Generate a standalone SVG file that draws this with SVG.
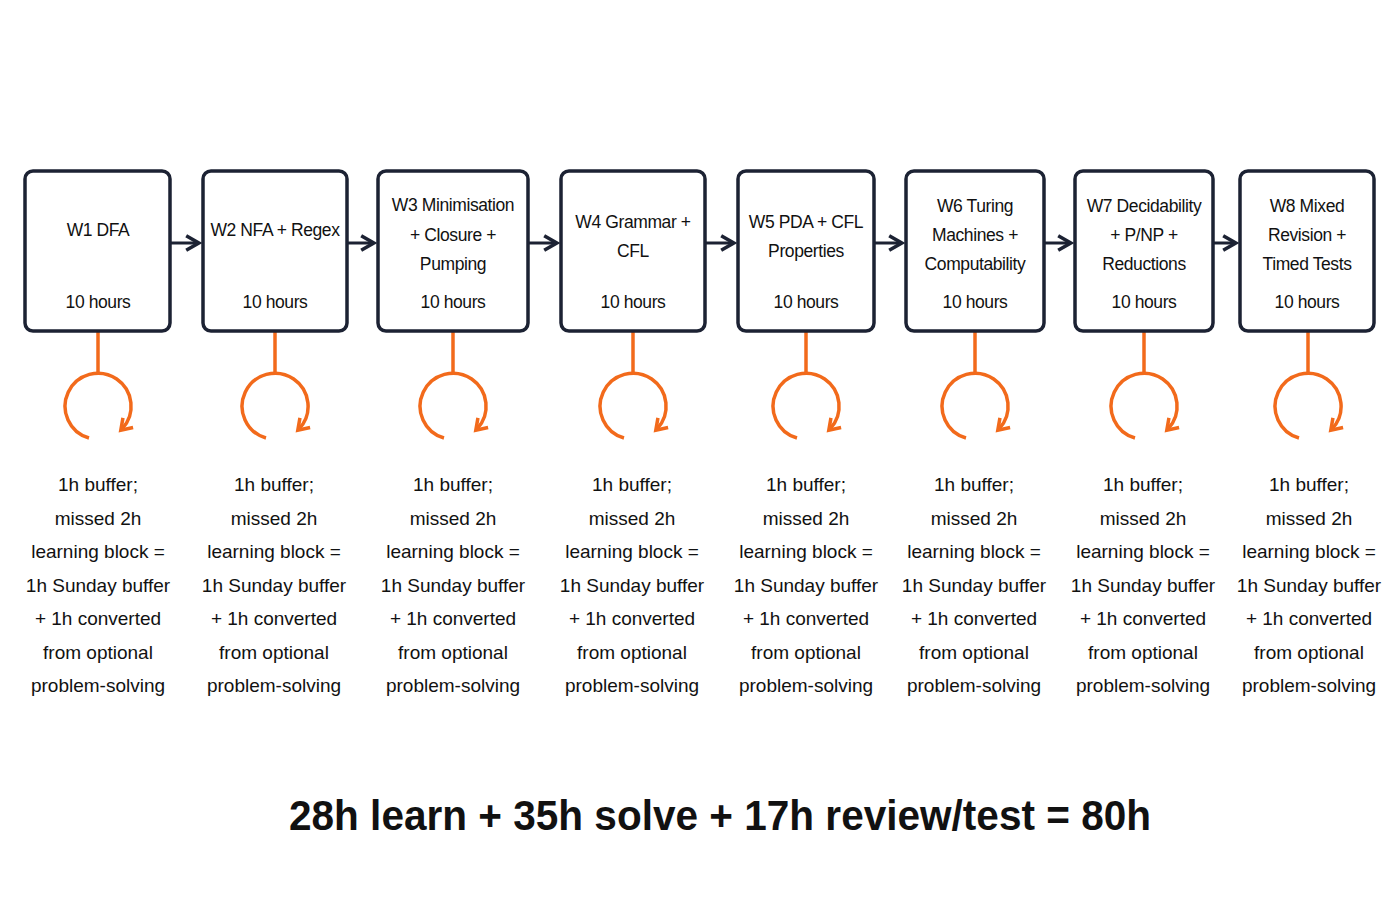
<svg xmlns="http://www.w3.org/2000/svg" width="1400" height="900" viewBox="0 0 1400 900">
<style>
.box{fill:#fff;stroke:#1c2233;stroke-width:3.5}
.t{font-family:"Liberation Sans",Arial,sans-serif;font-size:19px;fill:#111;text-anchor:middle}
.k{font-size:17.5px;letter-spacing:-0.4px}
.b{font-family:"Liberation Sans",Arial,sans-serif;font-size:42px;font-weight:bold;fill:#111;text-anchor:middle}
.c{fill:none;stroke:#1c2233;stroke-width:3}
.o{fill:none;stroke:#f26a1b;stroke-width:3.5}
</style>
<defs>
<marker id="ah" viewBox="0 0 10 10" refX="7" refY="5" markerWidth="6" markerHeight="6" orient="auto"><path d="M1,1 L8,5 L1,9" fill="none" stroke="#1c2233" stroke-width="2"/></marker>
<marker id="oh" viewBox="0 0 10 10" refX="6" refY="5" markerWidth="5" markerHeight="5" orient="auto"><path d="M1,1 L7,5 L1,9" fill="none" stroke="#f26a1b" stroke-width="2"/></marker>
<g id="loop"><path class="o" d="M0,332 V372"/><path class="o" d="M-9,438 A33,33 0 1 1 24,429" marker-end="url(#oh)"/></g>
</defs>
<rect width="1400" height="900" fill="#fff"/>
<g id="connectors">
<path class="c" d="M171,243 H197" marker-end="url(#ah)"/>
<path class="c" d="M348,243 H372" marker-end="url(#ah)"/>
<path class="c" d="M529,243 H555" marker-end="url(#ah)"/>
<path class="c" d="M706,243 H732" marker-end="url(#ah)"/>
<path class="c" d="M875,243 H900" marker-end="url(#ah)"/>
<path class="c" d="M1045,243 H1069" marker-end="url(#ah)"/>
<path class="c" d="M1214,243 H1234" marker-end="url(#ah)"/>
<use href="#loop" x="98"/><use href="#loop" x="275"/><use href="#loop" x="453"/><use href="#loop" x="633"/>
<use href="#loop" x="806"/><use href="#loop" x="975"/><use href="#loop" x="1144"/><use href="#loop" x="1308"/>
</g>
<g id="w1"><rect class="box" x="25" y="171" width="145" height="160" rx="8"/><text class="t k" x="98" y="236">W1 DFA</text><text class="t k" x="98" y="308">10 hours</text></g>
<g id="w2"><rect class="box" x="203" y="171" width="144" height="160" rx="8"/><text class="t k" x="275" y="236">W2 NFA + Regex</text><text class="t k" x="275" y="308">10 hours</text></g>
<g id="w3"><rect class="box" x="378" y="171" width="150" height="160" rx="8"/><text class="t k" x="453" y="211">W3 Minimisation</text><text class="t k" x="453" y="241">+ Closure +</text><text class="t k" x="453" y="270">Pumping</text><text class="t k" x="453" y="308">10 hours</text></g>
<g id="w4"><rect class="box" x="561" y="171" width="144" height="160" rx="8"/><text class="t k" x="633" y="228">W4 Grammar +</text><text class="t k" x="633" y="257">CFL</text><text class="t k" x="633" y="308">10 hours</text></g>
<g id="w5"><rect class="box" x="738" y="171" width="136" height="160" rx="8"/><text class="t k" x="806" y="228">W5 PDA + CFL</text><text class="t k" x="806" y="257">Properties</text><text class="t k" x="806" y="308">10 hours</text></g>
<g id="w6"><rect class="box" x="906" y="171" width="138" height="160" rx="8"/><text class="t k" x="975" y="212">W6 Turing</text><text class="t k" x="975" y="241">Machines +</text><text class="t k" x="975" y="270">Computability</text><text class="t k" x="975" y="308">10 hours</text></g>
<g id="w7"><rect class="box" x="1075" y="171" width="138" height="160" rx="8"/><text class="t k" x="1144" y="212">W7 Decidability</text><text class="t k" x="1144" y="241">+ P/NP +</text><text class="t k" x="1144" y="270">Reductions</text><text class="t k" x="1144" y="308">10 hours</text></g>
<g id="w8"><rect class="box" x="1240" y="171" width="134" height="160" rx="8"/><text class="t k" x="1307" y="212">W8 Mixed</text><text class="t k" x="1307" y="241">Revision +</text><text class="t k" x="1307" y="270">Timed Tests</text><text class="t k" x="1307" y="308">10 hours</text></g>
<g id="notes" class="t">
<text class="t" x="98" y="491">1h buffer;<tspan x="98" dy="33.5">missed 2h</tspan><tspan x="98" dy="33.5">learning block =</tspan><tspan x="98" dy="33.5">1h Sunday buffer</tspan><tspan x="98" dy="33.5">+ 1h converted</tspan><tspan x="98" dy="33.5">from optional</tspan><tspan x="98" dy="33.5">problem-solving</tspan></text>
<text class="t" x="274" y="491">1h buffer;<tspan x="274" dy="33.5">missed 2h</tspan><tspan x="274" dy="33.5">learning block =</tspan><tspan x="274" dy="33.5">1h Sunday buffer</tspan><tspan x="274" dy="33.5">+ 1h converted</tspan><tspan x="274" dy="33.5">from optional</tspan><tspan x="274" dy="33.5">problem-solving</tspan></text>
<text class="t" x="453" y="491">1h buffer;<tspan x="453" dy="33.5">missed 2h</tspan><tspan x="453" dy="33.5">learning block =</tspan><tspan x="453" dy="33.5">1h Sunday buffer</tspan><tspan x="453" dy="33.5">+ 1h converted</tspan><tspan x="453" dy="33.5">from optional</tspan><tspan x="453" dy="33.5">problem-solving</tspan></text>
<text class="t" x="632" y="491">1h buffer;<tspan x="632" dy="33.5">missed 2h</tspan><tspan x="632" dy="33.5">learning block =</tspan><tspan x="632" dy="33.5">1h Sunday buffer</tspan><tspan x="632" dy="33.5">+ 1h converted</tspan><tspan x="632" dy="33.5">from optional</tspan><tspan x="632" dy="33.5">problem-solving</tspan></text>
<text class="t" x="806" y="491">1h buffer;<tspan x="806" dy="33.5">missed 2h</tspan><tspan x="806" dy="33.5">learning block =</tspan><tspan x="806" dy="33.5">1h Sunday buffer</tspan><tspan x="806" dy="33.5">+ 1h converted</tspan><tspan x="806" dy="33.5">from optional</tspan><tspan x="806" dy="33.5">problem-solving</tspan></text>
<text class="t" x="974" y="491">1h buffer;<tspan x="974" dy="33.5">missed 2h</tspan><tspan x="974" dy="33.5">learning block =</tspan><tspan x="974" dy="33.5">1h Sunday buffer</tspan><tspan x="974" dy="33.5">+ 1h converted</tspan><tspan x="974" dy="33.5">from optional</tspan><tspan x="974" dy="33.5">problem-solving</tspan></text>
<text class="t" x="1143" y="491">1h buffer;<tspan x="1143" dy="33.5">missed 2h</tspan><tspan x="1143" dy="33.5">learning block =</tspan><tspan x="1143" dy="33.5">1h Sunday buffer</tspan><tspan x="1143" dy="33.5">+ 1h converted</tspan><tspan x="1143" dy="33.5">from optional</tspan><tspan x="1143" dy="33.5">problem-solving</tspan></text>
<text class="t" x="1309" y="491">1h buffer;<tspan x="1309" dy="33.5">missed 2h</tspan><tspan x="1309" dy="33.5">learning block =</tspan><tspan x="1309" dy="33.5">1h Sunday buffer</tspan><tspan x="1309" dy="33.5">+ 1h converted</tspan><tspan x="1309" dy="33.5">from optional</tspan><tspan x="1309" dy="33.5">problem-solving</tspan></text>
</g>
<text class="b" x="720" y="830" textLength="862" lengthAdjust="spacingAndGlyphs">28h learn + 35h solve + 17h review/test = 80h</text>
</svg>
